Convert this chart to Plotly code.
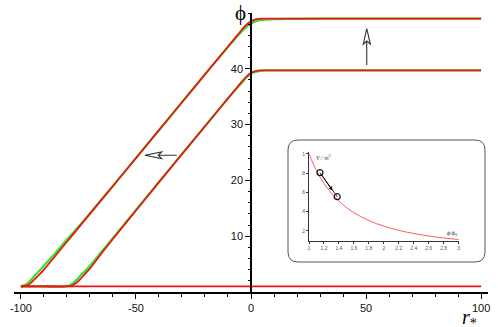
"""Field trajectories phi(r*) with an inset of the potential V/m^2.

Main panel: three solutions (green and red versions) rising with
slope ~1/2 and leveling off. Inset: the potential curve and a short path.
"""

# Imports
import plotly.graph_objects as go


# Data
# upper trajectory
R_UPPER = [-100, -98, -96, -94, -92, -90, -85, -80, -75, -70, -60, -50, -40,
           -30, -20, -10, -6, -4, -2, 0, 2, 4, 6, 10, 20, 40, 60, 80, 100]
PHI_UPPER_RED = [1.0, 1.1, 1.5, 2.3, 3.1, 4.0, 6.5, 9.0, 11.5, 14.0, 19.0,
                 24.0, 29.0, 34.0, 39.0, 44.0, 46.0, 47.0, 47.9, 48.5, 48.85,
                 48.97, 49.0, 49.0, 49.0, 49.0, 49.0, 49.0, 49.0]
PHI_UPPER_GREEN = [1.0, 1.3, 2.0, 2.9, 3.8, 4.7, 7.0, 9.4, 11.7, 14.1, 19.0,
                   24.0, 29.0, 34.0, 39.0, 43.9, 45.8, 46.7, 47.5, 48.1, 48.5,
                   48.7, 48.8, 48.9, 48.95, 49.0, 49.0, 49.0, 49.0]

# middle trajectory
R_MIDDLE = [-100, -90, -80, -78, -76, -74, -72, -70, -65, -60, -50, -40, -30,
            -20, -10, -6, -4, -2, 0, 2, 4, 6, 10, 20, 40, 60, 80, 100]
PHI_MIDDLE_RED = [1.0, 1.0, 1.0, 1.1, 1.6, 2.4, 3.3, 4.2, 6.9, 9.5, 14.6,
                  19.7, 24.7, 29.7, 34.7, 36.7, 37.7, 38.6, 39.3, 39.6, 39.7,
                  39.7, 39.7, 39.7, 39.7, 39.7, 39.7, 39.7]
PHI_MIDDLE_GREEN = [1.0, 1.0, 1.05, 1.4, 2.1, 3.0, 3.8, 4.7, 7.2, 9.7, 14.7,
                    19.7, 24.7, 29.7, 34.7, 36.6, 37.5, 38.4, 39.1, 39.45,
                    39.6, 39.7, 39.7, 39.7, 39.7, 39.7, 39.7, 39.7]

# flat trajectory
R_FLAT = [-100, 100]
PHI_FLAT = [1.0, 1.0]

# inset potential V/m^2
INSET_X = [1.0, 1.1, 1.2, 1.3, 1.4, 1.5, 1.6, 1.7, 1.8, 1.9, 2.0, 2.1, 2.2,
           2.3, 2.4, 2.5, 2.6, 2.7, 2.8, 2.9, 3.0]
INSET_V = [1.0, 0.826, 0.694, 0.592, 0.510, 0.444, 0.391, 0.346, 0.309,
           0.277, 0.250, 0.227, 0.207, 0.189, 0.174, 0.160, 0.148, 0.137,
           0.128, 0.119, 0.111]

# inset path: end points and the direction mark between them
PATH_X = [1.146, 1.377]
PATH_V = [0.806, 0.556]
MARK_FROM = (1.146, 0.806)
MARK_TO = (1.315, 0.62)

# tick labels
X_TICKS = [-100, -50, 0, 50, 100]
X_LABELS = ["-100", "-50", "0", "50", "100"]
Y_TICKS = [10, 20, 30, 40]
INSET_X_TICKS = [1, 1.2, 1.4, 1.6, 1.8, 2, 2.2, 2.4, 2.6, 2.8, 3]
INSET_X_LABELS = ["1", "1.2", "1.4", "1.6", "1.8", "2", "2.2", "2.4", "2.6",
                  "2.8", "3"]
INSET_Y_TICKS = [0.2, 0.4, 0.6, 0.8, 1.0]
INSET_Y_LABELS = [".2", ".4", ".6", ".8", "1"]


# Styles
RED = "#f01414"
GREEN = "#2ee62e"
ARROW_COLOR = "#333333"
FONT = "Liberation Sans"
SERIF = "Liberation Serif"

# Plot area in pixels (498x327 window)
M_L, M_R, M_T, M_B = 14, 10, 13, 35
W, H = 498, 327
PW, PH = W - M_L - M_R, H - M_T - M_B


def px_to_paper(px, py):
    """Convert window pixels to paper fractions of the plot area."""
    return (px - M_L) / PW, (H - M_B - py) / PH


fig = go.Figure()

# Main curves: green first, red over it
for r, phi in [(R_UPPER, PHI_UPPER_GREEN), (R_MIDDLE, PHI_MIDDLE_GREEN)]:
    fig.add_trace(go.Scatter(x=r, y=phi, mode="lines", line_shape="spline",
                             line=dict(color=GREEN, width=2.2)))
for r, phi in [(R_UPPER, PHI_UPPER_RED), (R_MIDDLE, PHI_MIDDLE_RED),
               (R_FLAT, PHI_FLAT)]:
    fig.add_trace(go.Scatter(x=r, y=phi, mode="lines", line_shape="spline",
                             line=dict(color=RED, width=1.8)))

# Inset curve and path
fig.add_trace(go.Scatter(x=INSET_X, y=INSET_V, mode="lines",
                         line_shape="spline", xaxis="x2", yaxis="y2",
                         line=dict(color="#ff5a5a", width=1)))
fig.add_trace(go.Scatter(x=PATH_X, y=PATH_V, mode="lines+markers",
                         xaxis="x2", yaxis="y2",
                         line=dict(color="#222222", width=1),
                         marker=dict(symbol="circle-open", size=6,
                                     color="#111111",
                                     line=dict(width=1.2))))

# Hollow arrows (data coordinates of the main panel)
LEFT_ARROW = "M -32.3 24.5 L -40.3 24.5 M -46.1 24.5 L -38.8 25.1 " \
             "L -40.3 24.5 L -38.8 23.9 Z"
UP_ARROW = "M 50.3 40.7 L 50.3 45.0 M 50.3 47.2 L 48.8 44.4 " \
           "L 50.3 45.0 L 51.9 44.4 Z"
shapes = []
for path in [LEFT_ARROW, UP_ARROW]:
    shapes.append(dict(type="path", path=path, xref="x", yref="y",
                       line=dict(color=ARROW_COLOR, width=1.1),
                       fillcolor="white"))

# Rounded box around the inset (paper coordinates)
x0, y0 = px_to_paper(288, 262)
x1, y1 = px_to_paper(485, 140)
rx, ry = 10 / PW, 10 / PH
box = (f"M {x0 + rx} {y0} L {x1 - rx} {y0} Q {x1} {y0} {x1} {y0 + ry} "
       f"L {x1} {y1 - ry} Q {x1} {y1} {x1 - rx} {y1} "
       f"L {x0 + rx} {y1} Q {x0} {y1} {x0} {y1 - ry} "
       f"L {x0} {y0 + ry} Q {x0} {y0} {x0 + rx} {y0} Z")
shapes.append(dict(type="path", path=box, xref="paper", yref="paper",
                   layer="below", line=dict(color="#555555", width=1)))

ix0, iy0 = px_to_paper(309, 241)
ix1, iy1 = px_to_paper(459.3, 152)

annotations = [
    dict(text="ϕ", x=-4.5, y=px_to_paper(0, 13)[1], xref="x",
         yref="paper", yanchor="middle", showarrow=False,
         font=dict(family=SERIF, size=21, color="black")),
    dict(text="<i>r</i><sub>*</sub>", x=95, y=px_to_paper(0, 318)[1],
         xref="x", yref="paper", yanchor="middle", showarrow=False,
         font=dict(family=SERIF, size=20, color="black")),
    dict(text="<i>V / m</i><sup>2</sup>", x=1.07, y=0.97, xref="x2",
         yref="y2", xanchor="left", showarrow=False,
         font=dict(family=SERIF, size=6, color="#333333")),
    dict(text="<i>ϕ/ϕ</i><sub>0</sub>", x=3.0, y=0.17, xref="x2",
         yref="y2", xanchor="right", showarrow=False,
         font=dict(family=SERIF, size=6, color="#333333")),
    # direction mark on the inset path
    dict(text="", x=MARK_TO[0], y=MARK_TO[1], ax=MARK_FROM[0],
         ay=MARK_FROM[1], xref="x2", yref="y2", axref="x2", ayref="y2",
         showarrow=True, arrowhead=2, arrowsize=0.8, arrowwidth=1,
         arrowcolor="#111111"),
]

fig.update_layout(
    width=W, height=H, showlegend=False,
    margin=dict(l=M_L, r=M_R, t=M_T, b=M_B, autoexpand=False),
    plot_bgcolor="white", paper_bgcolor="white",
    font=dict(family=FONT, size=11, color="#111111"),
    shapes=shapes, annotations=annotations,
    xaxis=dict(range=[-103, 103], showgrid=False, zeroline=False,
               automargin=False, showline=True, linecolor="black",
               linewidth=1.5, tickvals=X_TICKS, ticktext=X_LABELS,
               ticks="outside", ticklen=5,
               tickcolor="black", tickwidth=1.2,
               tickfont=dict(color="#111111"),
               minor=dict(dtick=10, ticks="outside", ticklen=3,
                          tickcolor="black")),
    yaxis=dict(range=[0, 50], showgrid=False, zeroline=False,
               automargin=False, anchor="free", position=0.5,
               showline=True, linecolor="black", linewidth=1.5,
               tickvals=Y_TICKS, ticks="outside", ticklen=5,
               tickcolor="black", tickwidth=1.2,
               tickfont=dict(color="#111111"),
               minor=dict(dtick=2, ticks="outside", ticklen=2.5,
                          tickcolor="black")),
    xaxis2=dict(domain=[ix0, ix1], anchor="y2", range=[1, 3.01],
                automargin=False, showgrid=False, zeroline=False,
                showline=True, linecolor="#333333", linewidth=0.8,
                tickvals=INSET_X_TICKS, ticktext=INSET_X_LABELS,
                ticks="outside", ticklen=2, tickcolor="#333333",
                tickfont=dict(size=5, color="#555555")),
    yaxis2=dict(domain=[iy0, iy1], anchor="x2", range=[0.096, 1.02],
                automargin=False, showgrid=False, zeroline=False,
                showline=True, linecolor="#333333", linewidth=0.8,
                tickvals=INSET_Y_TICKS, ticktext=INSET_Y_LABELS,
                ticks="outside", ticklen=2, tickcolor="#333333",
                tickfont=dict(size=5, color="#555555")),
)

# the page body has a default 8px margin; drop it so the figure fills the window
fig.write_html("out.html", config={"displayModeBar": False},
               post_script="document.body.style.margin='0';")
